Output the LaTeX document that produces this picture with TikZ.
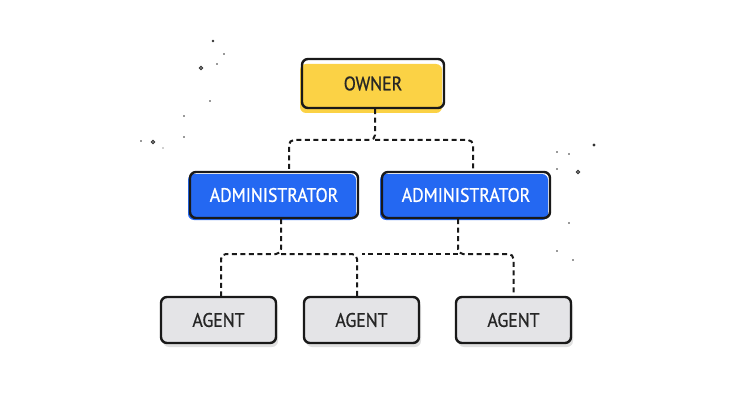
\documentclass[tikz,border=0pt]{standalone}
\usepackage{fontspec}
\setmainfont[FakeStretch=0.91, FakeBold=0.8]{PT Sans}
\usetikzlibrary{positioning}
\definecolor{ownerYellow}{HTML}{FBD245}
\definecolor{adminBlue}{HTML}{2468F2}
\definecolor{agentGray}{HTML}{E4E4E7}

\begin{document}
\begin{tikzpicture}[
      x=1pt, y=-1pt,
      box/.style={rectangle, draw=black!90, line width=2.4pt, rounded corners=6pt, font=\fontsize{19.5}{22}\selectfont, minimum height=46pt},
      owner/.style={box, minimum width=142pt, minimum height=49pt, text=black!85,
        preaction={fill=ownerYellow, transform canvas={xshift=-2pt, yshift=-5pt}}},
      admin/.style={box, minimum width=168pt, text=white,
        preaction={fill=adminBlue, transform canvas={xshift=-2pt, yshift=-2pt}}},
      agent/.style={box, minimum width=115pt, text=black!85,
        preaction={fill=black!12, transform canvas={xshift=2pt, yshift=-4pt}},
        preaction={fill=agentGray}},
      link/.style={draw=black!90, line width=2pt, dash pattern=on 5pt off 3.5pt, rounded corners=5pt},
      speck/.style={fill=black!80}
    ]
    \useasboundingbox (0,0) rectangle (736,409);
    % boxes
    \node[owner] (own) at (373,83.5) {OWNER};
    \node[admin] (adm1) at (274,195) {ADMINISTRATOR};
    \node[admin] (adm2) at (466,195) {ADMINISTRATOR};
    \node[agent] (ag1) at (218.5,320) {AGENT};
    \node[agent] (ag2) at (361.5,320) {AGENT};
    \node[agent] (ag3) at (513.5,320) {AGENT};
    % dashed links
    \coordinate (j0) at (375,140);
    \coordinate (j1) at (281,254);
    \coordinate (j2) at (458,254);
    \draw[link] (own.south -| j0) -- (j0) -| ([xshift=15pt]adm1.north);
    \draw[link] (j0) -| ([xshift=7pt]adm2.north);
    \draw[link] (adm1.south -| j1) -- (j1) -| (ag1.north -| 221,0);
    \draw[link] (j1) -| (ag2.north -| 357,0);
    \draw[link] (adm2.south -| j2) -- (j2) -| (ag3.north);
    \draw[link] (j2) -- (j2 -| ag2.north);
    % specks
    \foreach \x/\y/\r in {213/41/1.3, 224/54/0.8, 217/64/0.9, 210/101/0.9, 184/116/0.9, 184/137/0.8, 141/141/0.9, 163/148/0.7,
                          594/145/1.6, 557/152/0.8, 569/154/0.8, 557/169/0.8, 569/223/0.8, 557/251/0.9, 573/260/0.9} {
        \fill[speck] (\x,\y) circle (\r pt);
    }
    \foreach \x/\y in {201/68, 153/142, 578/172} {
        \draw[black!80, line width=1pt] (\x,\y) circle (1.6pt);
    }
  \end{tikzpicture}
\end{document}
